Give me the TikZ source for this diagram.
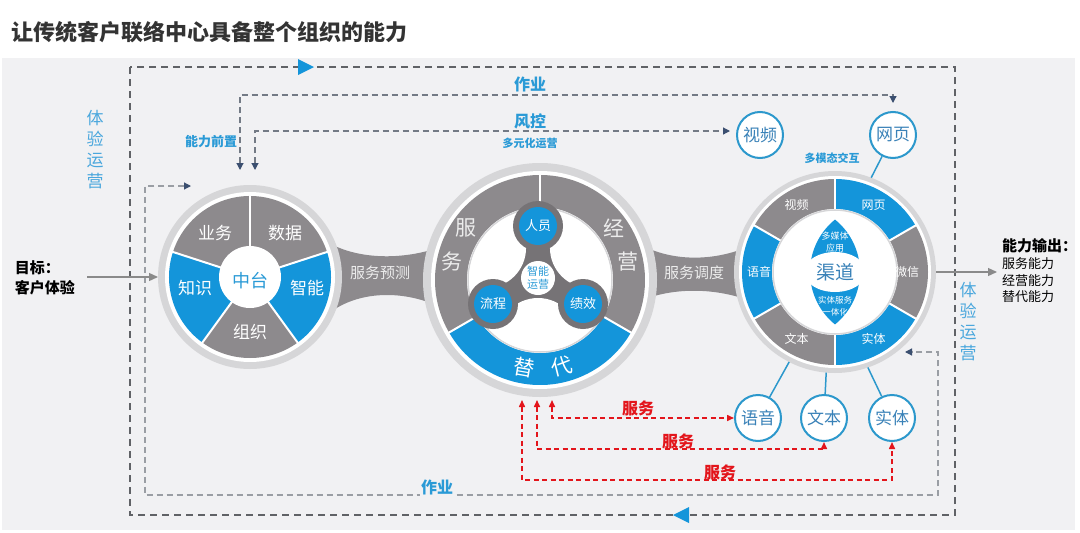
\documentclass[tikz,border=0pt]{standalone}
\usepackage{fontspec}
\setmainfont{Noto Sans CJK SC}
\usetikzlibrary{arrows.meta,calc}
\newcommand\myfs[1]{\fontsize{#1}{#1}\selectfont}
\definecolor{panel}{HTML}{F1F1F3}
\definecolor{sgray}{HTML}{8D8A8D}
\definecolor{sblue}{HTML}{1495DA}
\definecolor{ringc}{HTML}{D6D6D8}
\definecolor{lblue}{HTML}{2A9AD6}
\definecolor{vblue}{HTML}{4AA7DD}
\definecolor{odash}{HTML}{606266}
\definecolor{mdash}{HTML}{737A85}
\definecolor{idash}{HTML}{9A9EA4}
\definecolor{navy}{HTML}{3B4F70}
\definecolor{sred}{HTML}{E3151B}
\definecolor{cblue}{HTML}{2C98CC}
\definecolor{ctext}{HTML}{3A82B8}
\definecolor{tgray}{HTML}{767376}
\definecolor{titlec}{HTML}{333333}
\definecolor{arrg}{HTML}{8A8A8A}
\definecolor{bandt}{HTML}{ECECEC}
\begin{document}
\begin{tikzpicture}[x=1pt,y=1pt,
  lbl/.style={inner sep=0pt,outer sep=0pt},
  outerdash/.style={draw=odash,line width=1.4pt,dash pattern=on 7pt off 5pt},
  middash/.style={draw=mdash,line width=1.2pt,dash pattern=on 6pt off 4pt},
  innerdash/.style={draw=idash,line width=1.2pt,dash pattern=on 6pt off 4pt},
  navyboth/.style={arrows={{Triangle[length=7pt,width=7pt,color=navy]}-{Triangle[length=7pt,width=7pt,color=navy]}}},
  reddash/.style={draw=sred,line width=1.5pt,dash pattern=on 5pt off 3.5pt,arrows={{Triangle[length=7pt,width=6pt]}-{Triangle[length=7pt,width=6pt]}}},
  garrow/.style={draw=arrg,line width=1.3pt,-{Triangle[length=9pt,width=8pt]}},
  cline/.style={draw=cblue,line width=1.5pt},
  smallc/.style={circle,draw=cblue,line width=2pt,fill=white,minimum size=46pt,inner sep=0pt,text=ctext,font=\myfs{17}},
  lobe/.style={circle,fill=sblue,minimum size=38pt,inner sep=0pt,text=white,font=\myfs{13}},
  sectxt/.style={lbl,text=white,font=\myfs{17}},
  ringtxt/.style={lbl,text=bandt,font=\myfs{21}},
  rtxt/.style={lbl,text=white,font=\myfs{12}},
  bluebold/.style={lbl,text=lblue,font=\myfs{16}\bfseries},
  redlbl/.style={lbl,text=sred,font=\myfs{16}\bfseries},
  bigc/.style={circle,inner sep=0pt,outer sep=0pt}
]
\useasboundingbox (0,0) rectangle (1080,-533);
\fill[white] (0,0) rectangle (1080,-533);
\fill[panel] (2,-58) rectangle (1075,-530);

\node[lbl,anchor=west,text=titlec,font=\myfs{22}\bfseries] (title) at (12,-32) {让传统客户联络中心具备整个组织的能力};

% invisible circle nodes
\node[bigc,minimum size=184pt] (Lc) at (250,-277) {};
\node[bigc,minimum size=234pt] (Mc) at (540,-280) {};
\node[bigc,minimum size=202pt] (Rc) at (835,-272) {};

% outer dashed loop
\coordinate (o1) at (130,-67);
\coordinate (o2) at (955,-515);
\draw[outerdash] (o1) rectangle (o2);
\fill[sblue] (298,-59) -- (314,-67) -- (298,-75) -- cycle;
\fill[sblue] (689,-507) -- (673,-515) -- (689,-523) -- cycle;

% inner loop
\coordinate (i1) at (191,-186);
\coordinate (i2) at (145,-186);
\coordinate (i3) at (145,-495);
\coordinate (i4) at (938,-495);
\coordinate (i5) at (938,-352);
\coordinate (i6) at (905,-352);
\draw[innerdash,navyboth] (i1) -- (i2) -- (i3) -- (i4) -- (i5) -- (i6);

% small outer circles
\node[smallc] (v1) at (760,-135) {视频};
\node[smallc] (w1) at (893,-135) {网页};
\node[smallc] (y2) at (758,-418) {语音};
\node[smallc] (t2) at (824,-418) {文本};
\node[smallc] (s2) at (892,-418) {实体};

% top dashed lines
\coordinate (z1) at (240,-170);
\coordinate (z2) at (240,-95);
\coordinate (z3) at (893,-95);
\draw[middash,navyboth,shorten >=8pt] (z1) -- (z2) -- (z3) -- (w1);
\coordinate (f1) at (255,-170);
\coordinate (f2) at (255,-131);
\coordinate (f3) at (730,-131);
\draw[middash,navyboth] (f1) -- (f2) -- (f3);

% bands
\fill[sgray] (335,-246) .. controls (365,-260) and (410,-260) .. (448,-244)
  -- (448,-311) .. controls (410,-290) and (365,-290) .. (335,-309) -- cycle;
\fill[sgray] (645,-247) .. controls (675,-261) and (712,-261) .. (745,-248)
  -- (745,-299) .. controls (712,-288) and (675,-288) .. (645,-299) -- cycle;
\node[lbl,text=bandt,font=\myfs{15}] (bt1) at (380,-273) {服务预测};
\node[lbl,text=bandt,font=\myfs{15}] (bt2) at (694,-273) {服务调度};

% left circle
\begin{scope}[shift={(Lc.center)}]
  \fill[ringc] (0,0) circle (92);
  \fill[white] (0,0) circle (85);
  \fill[sgray] (0,0) -- (18:81) arc[start angle=18,end angle=162,radius=81] -- cycle;
  \fill[sblue] (0,0) -- (162:81) arc[start angle=162,end angle=234,radius=81] -- cycle;
  \fill[sgray] (0,0) -- (234:81) arc[start angle=234,end angle=306,radius=81] -- cycle;
  \fill[sblue] (0,0) -- (306:81) arc[start angle=306,end angle=378,radius=81] -- cycle;
  \foreach \a in {18,90,162,234,306} \draw[white,line width=2pt] (0,0) -- (\a:82);
  \fill[white] (0,0) circle (31);
  \node[sectxt] (l1) at (-35,44) {业务};
  \node[sectxt] (l2) at (35,44) {数据};
  \node[sectxt] (l3) at (-55,-11) {知识};
  \node[sectxt] (l4) at (57,-11) {智能};
  \node[sectxt] (l5) at (0,-55) {组织};
  \node[lbl,text=lblue,font=\myfs{18}] (l0) at (0,-4) {中台};
\end{scope}

% middle circle
\begin{scope}[shift={(Mc.center)}]
  \fill[ringc] (0,0) circle (117);
  \fill[white] (0,0) circle (109);
  \fill[sgray] (0,0) -- (330:105) arc[start angle=-30,end angle=210,radius=105] -- cycle;
  \fill[sblue] (0,0) -- (210:105) arc[start angle=210,end angle=330,radius=105] -- cycle;
  \foreach \a in {90,210,330} \draw[white,line width=2pt] (0,0) -- (\a:106);
  \fill[white] (0,0) circle (73);
  \draw[ringc,line width=1.5pt] (0,0) circle (72);
  \node[ringtxt] (m1t) at (145:90) {服};
  \node[ringtxt] (m2t) at (168:90) {务};
  \node[ringtxt] (m3t) at (35:90) {经};
  \node[ringtxt] (m4t) at (12:90) {营};
  \node[ringtxt,text=white,rotate=-10] (m5t) at (260:89) {替};
  \node[ringtxt,text=white,rotate=14] (m6t) at (284:89) {代};
  % trefoil
  \coordinate (T) at (-2,2);
  \coordinate (A) at (-2,54);
  \coordinate (B) at (-47,-24);
  \coordinate (C) at (43,-24);
  \begin{scope}
    \clip (0,0) circle (71);
    \fill[tgray] (A) -- (B) -- (C) -- cycle;
    \fill[white] ($(T)+(30:60)$) circle (40);
    \fill[white] ($(T)+(150:60)$) circle (40);
    \fill[white] ($(T)+(270:60)$) circle (40);
  \end{scope}
  \fill[tgray] (A) circle (25);
  \fill[tgray] (B) circle (25);
  \fill[tgray] (C) circle (25);
  \fill[white] (T) circle (17);
  \node[lobe] (p1) at (A) {人员};
  \node[lobe] (p2) at (B) {流程};
  \node[lobe] (p3) at (C) {绩效};
  \node[lbl,text=lblue,font={\fontsize{11}{13}\selectfont},align=center] (p0) at (T) {智能\\运营};
\end{scope}

% right circle
\begin{scope}[shift={(Rc.center)}]
  \fill[ringc] (0,0) circle (101);
  \fill[white] (0,0) circle (96);
  \foreach \a/\c in {90/sgray,30/sblue,-30/sgray,-90/sblue,210/sgray,150/sblue}
    \fill[\c] (0,0) -- (\a:93) arc[start angle=\a,delta angle=60,radius=93] -- cycle;
  \foreach \a in {30,90,150,210,270,330} \draw[white,line width=2pt] (0,0) -- (\a:94);
  \fill[white] (0,0) circle (63);
  \draw[ringc,line width=1.5pt] (0,0) circle (62);
  \begin{scope}
    \clip (-42.5,0) circle (67.5);
    \fill[sblue] (42.5,0) circle (67.5);
  \end{scope}
  \fill[white] (0,0) ellipse [x radius=31,y radius=20];
  \node[rtxt] (r1) at (120:77) {视频};
  \node[rtxt] (r2t) at (60:77) {网页};
  \node[rtxt] (r3t) at (0:72) {微信};
  \node[rtxt] (r4) at (-60:77) {实体};
  \node[rtxt] (r5) at (240:77) {文本};
  \node[rtxt] (r6) at (180:76) {语音};
  \node[lbl,text=ctext,font=\myfs{19}] (r0) at (0,0) {渠道};
  \node[lbl,text=white,font={\fontsize{9}{11.5}\selectfont},align=center] (rl1) at (0,30) {多媒体\\应用};
  \node[lbl,text=white,font={\fontsize{8.5}{11.5}\selectfont},align=center] (rl2) at (0,-34) {实体服务\\一体化};
\end{scope}

% blue connectors
\draw[cline] (Rc.69) -- (w1);
\draw[cline] (Rc.243) -- (y2);
\draw[cline] (Rc.265) -- (t2);
\draw[cline] (Rc.289) -- (s2);

% red service arrows
\coordinate (m1) at ($(Mc.south)+(12,-3)$);
\coordinate (m2) at ($(Mc.south)+(-3,-3)$);
\coordinate (m3) at ($(Mc.south)+(-18,-3)$);
\coordinate (r2) at (824,-449);
\coordinate (r3) at (892,-480);
\draw[reddash] (m1) |- (y2);
\draw[reddash] (m2) |- (r2) -- (t2);
\draw[reddash] (m3) |- (r3) -- (s2);
\node[redlbl] (sv1) at (638,-408) {服务};
\node[redlbl] (sv2) at (678,-441) {服务};
\node[redlbl] (sv3) at (720,-472) {服务};

% labels
\node[bluebold,fill=panel,inner sep=1pt] (zy1) at (530,-84) {作业};
\node[bluebold,fill=panel,inner sep=1pt] (fk) at (530,-121) {风控};
\node[lbl,text=lblue,font=\myfs{11}\bfseries] (dy) at (530,-143) {多元化运营};
\node[bluebold,fill=panel,inner sep=1pt] (zy2) at (437,-487) {作业};
\node[lbl,text=lblue,font=\myfs{13}\bfseries] (nlqz) at (211,-142) {能力前置};
\node[lbl,text=lblue,font=\myfs{11}\bfseries] (dmt) at (832,-158) {多模态交互};
\node[lbl,text=vblue,font={\fontsize{17}{21}\selectfont},align=center] (ty1) at (95,-150) {体\\验\\运\\营};
\node[lbl,text=vblue,font={\fontsize{17}{21}\selectfont},align=center] (ty2) at (968,-322) {体\\验\\运\\营};

% goal and output
\node[lbl,anchor=west,align=left,font={\fontsize{15}{20}\selectfont\bfseries}] (goal) at (15,-278) {目标：\\客户体验};
\draw[garrow] ($(goal.east |- Lc.west)+(12,0)$) -- (Lc.west);
\node[lbl,anchor=north west,font=\myfs{15}\bfseries] (outT) at (1002,-239) {能力输出：};
\node[lbl,anchor=north west,align=left,font={\fontsize{13}{16.5}\selectfont}] (outL) at (1002,-258) {服务能力\\经营能力\\替代能力};
\draw[garrow] (Rc.east) -- ($(outT.west |- Rc.east)+(-5,0)$);
\end{tikzpicture}
\end{document}
